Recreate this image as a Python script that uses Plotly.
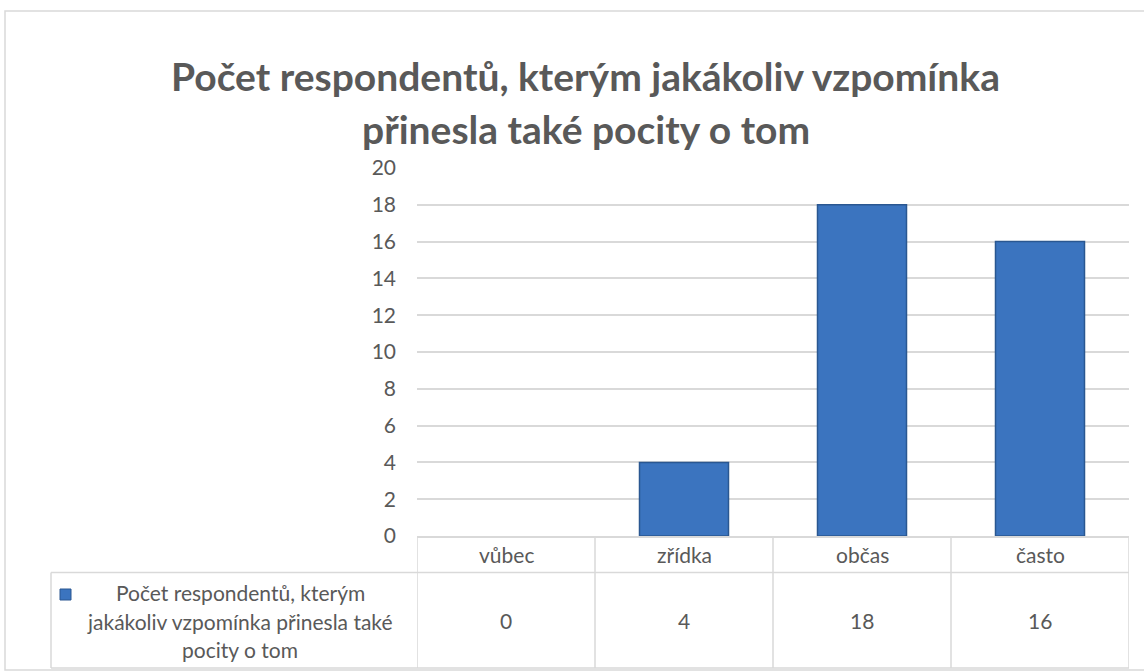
import plotly.graph_objects as go

categories = ["vůbec", "zřídka", "občas", "často"]
values = [0, 4, 18, 16]
series_name = "Počet respondentů, kterým jakákoliv vzpomínka přinesla také pocity o tom"
series_lines = ["Počet respondentů, kterým", "jakákoliv vzpomínka přinesla také", "pocity o tom"]
title_lines = ["Počet respondentů, kterým jakákoliv vzpomínka", "přinesla také pocity o tom"]
y_ticks = list(range(0, 21, 2))

W, H = 1144, 672
FONT = "Lato"
GRAY = "#595959"
GRID = "#d9d9d9"
TXT = 21

def px(x):
    return x / W

def py(y):
    return (H - y) / H

fig = go.Figure()
fig.add_trace(go.Bar(
    x=categories, y=values, name=series_name, width=0.5,
    marker=dict(color="#3b74bf",
                line=dict(color="#2a5791", width=[0 if v == 0 else 1.5 for v in values])),
    showlegend=False,
))

fig.update_layout(
    width=W, height=H,
    margin=dict(l=0, r=0, t=0, b=0, autoexpand=False),
    paper_bgcolor="white", plot_bgcolor="white",
    font=dict(family=FONT, color=GRAY, size=TXT),
    xaxis=dict(
        type="category", categoryorder="array", categoryarray=categories,
        range=[-0.5, 3.5], domain=[px(417), px(1129)],
        showticklabels=False, showgrid=False, zeroline=False,
        showline=True, linecolor=GRID, linewidth=1.5, ticks="",
    ),
    yaxis=dict(
        range=[0, 20], domain=[py(536), py(168)],
        tickvals=y_ticks, showgrid=True, gridcolor=GRID, gridwidth=1.5,
        zeroline=False, showline=False, ticks="",
        ticklabelstandoff=20,
        tickfont=dict(family=FONT, size=TXT, color=GRAY),
    ),
)

shapes = []
shapes.append(dict(type="rect", xref="paper", yref="paper",
                   x0=px(5), x1=px(1150), y0=py(670), y1=py(11),
                   line=dict(color=GRID, width=1.5), fillcolor="rgba(0,0,0,0)", layer="below"))
for i in range(len(categories) + 1):
    shapes.append(dict(type="line", xref="x", yref="paper",
                       x0=i - 0.5, x1=i - 0.5, y0=py(668), y1=py(536),
                       line=dict(color=GRID, width=1.5)))
shapes.append(dict(type="line", xref="paper", yref="paper",
                   x0=px(51), x1=px(1129), y0=py(572.5), y1=py(572.5),
                   line=dict(color=GRID, width=1.5)))
shapes.append(dict(type="line", xref="paper", yref="paper",
                   x0=px(51), x1=px(1129), y0=py(668), y1=py(668),
                   line=dict(color=GRID, width=1.5)))
shapes.append(dict(type="line", xref="paper", yref="paper",
                   x0=px(51), x1=px(51), y0=py(668), y1=py(572.5),
                   line=dict(color=GRID, width=1.5)))
shapes.append(dict(type="rect", xref="paper", yref="paper",
                   x0=px(60), x1=px(71), y0=py(600), y1=py(589),
                   fillcolor="#3b74bf", line=dict(color="#2a5791", width=1)))
fig.update_layout(shapes=shapes)

ann = []
for i, t in enumerate(title_lines):
    ann.append(dict(text="<b>" + t + "</b>", xref="paper", yref="paper",
                    x=px(586), y=py([76, 129][i]), xanchor="center", yanchor="middle",
                    showarrow=False, font=dict(family=FONT, size=39, color=GRAY)))
for c in categories:
    ann.append(dict(text=c, xref="x", yref="paper", x=c, y=py(554),
                    xanchor="center", yanchor="middle", showarrow=False,
                    font=dict(family=FONT, size=TXT, color=GRAY)))
for c, v in zip(categories, values):
    ann.append(dict(text=str(v), xref="x", yref="paper", x=c, y=py(620),
                    xanchor="center", yanchor="middle", showarrow=False,
                    font=dict(family=FONT, size=TXT, color=GRAY)))
for i, t in enumerate(series_lines):
    ann.append(dict(text=t, xref="paper", yref="paper", x=px(240), y=py([592, 621, 649][i]),
                    xanchor="center", yanchor="middle", showarrow=False,
                    font=dict(family=FONT, size=TXT, color=GRAY)))
fig.update_layout(annotations=ann)

fig.write_html(
    "out.html",
    config={"displayModeBar": False},
    post_script="document.body.style.margin='0';document.body.style.padding='0';"
                "document.documentElement.style.overflow='hidden';",
)
